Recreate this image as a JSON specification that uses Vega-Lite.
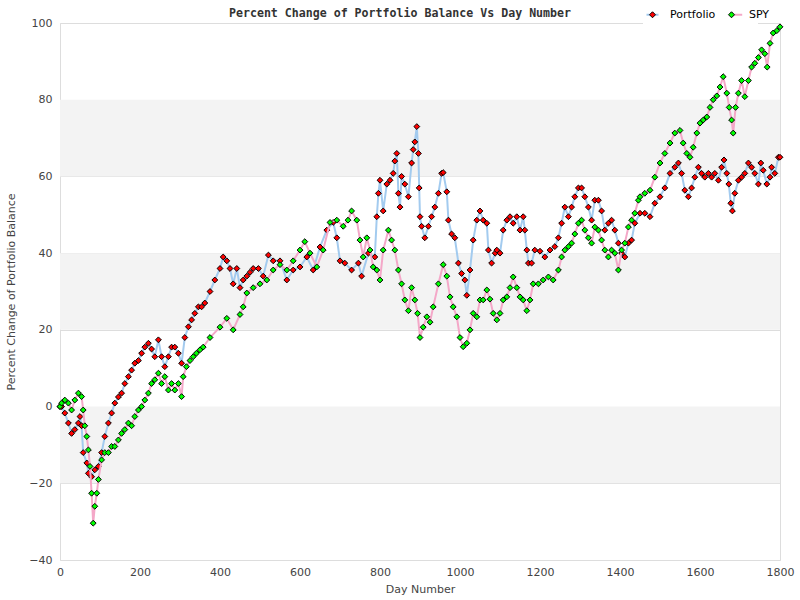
{
  "$schema": "https://vega.github.io/schema/vega-lite/v6.json",
  "width": 720,
  "height": 537,
  "autosize": {"type": "none"},
  "padding": {"left": 60, "top": 23, "right": 20, "bottom": 40},
  "background": "white",
  "title": {
    "text": "Percent Change of Portfolio Balance Vs Day Number",
    "font": "DejaVu Sans Mono",
    "fontSize": 11.6,
    "fontWeight": "bold",
    "color": "#333333",
    "anchor": "middle",
    "frame": "group",
    "dx": -20,
    "offset": -15
  },
  "config": {
    "view": {"stroke": "#dddddd", "strokeWidth": 1},
    "axis": {
      "labelFont": "DejaVu Sans",
      "labelFontSize": 11,
      "labelColor": "#444444",
      "labelFlush": false,
      "titleFont": "DejaVu Sans",
      "titleFontSize": 11,
      "titleFontWeight": "normal",
      "titleColor": "#444444",
      "domain": false,
      "ticks": false
    }
  },
  "datasets": {
    "bands": [
      {"lo": -20, "hi": 0},
      {"lo": 20, "hi": 40},
      {"lo": 60, "hi": 80}
    ],
    "series": [
      {"day":0,"value":0,"series":"Portfolio"},{"day":4,"value":0,"series":"Portfolio"},{"day":12,"value":-1.7,"series":"Portfolio"},{"day":21,"value":-4.3,"series":"Portfolio"},{"day":29,"value":-7,"series":"Portfolio"},{"day":37,"value":-6,"series":"Portfolio"},{"day":46,"value":-4.3,"series":"Portfolio"},{"day":50,"value":-2.6,"series":"Portfolio"},{"day":54,"value":-5,"series":"Portfolio"},{"day":58,"value":-12,"series":"Portfolio"},{"day":67,"value":-14.7,"series":"Portfolio"},{"day":71,"value":-17.4,"series":"Portfolio"},{"day":79,"value":-18.3,"series":"Portfolio"},{"day":87,"value":-16.5,"series":"Portfolio"},{"day":96,"value":-15.6,"series":"Portfolio"},{"day":104,"value":-12,"series":"Portfolio"},{"day":112,"value":-7.8,"series":"Portfolio"},{"day":121,"value":-4.3,"series":"Portfolio"},{"day":129,"value":-1.7,"series":"Portfolio"},{"day":137,"value":0.9,"series":"Portfolio"},{"day":146,"value":2.5,"series":"Portfolio"},{"day":154,"value":3.5,"series":"Portfolio"},{"day":162,"value":6,"series":"Portfolio"},{"day":171,"value":7.8,"series":"Portfolio"},{"day":179,"value":9.5,"series":"Portfolio"},{"day":187,"value":11.3,"series":"Portfolio"},{"day":196,"value":12,"series":"Portfolio"},{"day":204,"value":13.9,"series":"Portfolio"},{"day":212,"value":15.5,"series":"Portfolio"},{"day":221,"value":16.5,"series":"Portfolio"},{"day":229,"value":15,"series":"Portfolio"},{"day":237,"value":13,"series":"Portfolio"},{"day":246,"value":17.4,"series":"Portfolio"},{"day":254,"value":13,"series":"Portfolio"},{"day":262,"value":10.4,"series":"Portfolio"},{"day":271,"value":13,"series":"Portfolio"},{"day":279,"value":15.5,"series":"Portfolio"},{"day":287,"value":15.5,"series":"Portfolio"},{"day":296,"value":13.9,"series":"Portfolio"},{"day":304,"value":11.3,"series":"Portfolio"},{"day":312,"value":18,"series":"Portfolio"},{"day":321,"value":20.8,"series":"Portfolio"},{"day":329,"value":22.6,"series":"Portfolio"},{"day":337,"value":24.3,"series":"Portfolio"},{"day":346,"value":26,"series":"Portfolio"},{"day":354,"value":26,"series":"Portfolio"},{"day":362,"value":27,"series":"Portfolio"},{"day":375,"value":30,"series":"Portfolio"},{"day":387,"value":33,"series":"Portfolio"},{"day":400,"value":36,"series":"Portfolio"},{"day":408,"value":39,"series":"Portfolio"},{"day":417,"value":38,"series":"Portfolio"},{"day":425,"value":36,"series":"Portfolio"},{"day":433,"value":32,"series":"Portfolio"},{"day":442,"value":36,"series":"Portfolio"},{"day":450,"value":31,"series":"Portfolio"},{"day":458,"value":33,"series":"Portfolio"},{"day":467,"value":34,"series":"Portfolio"},{"day":475,"value":35,"series":"Portfolio"},{"day":483,"value":36,"series":"Portfolio"},{"day":496,"value":36,"series":"Portfolio"},{"day":508,"value":34,"series":"Portfolio"},{"day":521,"value":39.5,"series":"Portfolio"},{"day":533,"value":38,"series":"Portfolio"},{"day":550,"value":38,"series":"Portfolio"},{"day":567,"value":33,"series":"Portfolio"},{"day":583,"value":35.6,"series":"Portfolio"},{"day":600,"value":36.4,"series":"Portfolio"},{"day":617,"value":39,"series":"Portfolio"},{"day":633,"value":35.6,"series":"Portfolio"},{"day":650,"value":41.6,"series":"Portfolio"},{"day":667,"value":46,"series":"Portfolio"},{"day":683,"value":48,"series":"Portfolio"},{"day":692,"value":44,"series":"Portfolio"},{"day":700,"value":38,"series":"Portfolio"},{"day":712,"value":37.4,"series":"Portfolio"},{"day":729,"value":35.6,"series":"Portfolio"},{"day":746,"value":37.4,"series":"Portfolio"},{"day":754,"value":34,"series":"Portfolio"},{"day":771,"value":40,"series":"Portfolio"},{"day":787,"value":39,"series":"Portfolio"},{"day":792,"value":49.5,"series":"Portfolio"},{"day":796,"value":55.6,"series":"Portfolio"},{"day":800,"value":59,"series":"Portfolio"},{"day":808,"value":51,"series":"Portfolio"},{"day":817,"value":58,"series":"Portfolio"},{"day":825,"value":59,"series":"Portfolio"},{"day":833,"value":60.8,"series":"Portfolio"},{"day":837,"value":64,"series":"Portfolio"},{"day":842,"value":66,"series":"Portfolio"},{"day":846,"value":55.6,"series":"Portfolio"},{"day":850,"value":52,"series":"Portfolio"},{"day":854,"value":60,"series":"Portfolio"},{"day":862,"value":58,"series":"Portfolio"},{"day":871,"value":54.7,"series":"Portfolio"},{"day":879,"value":63.5,"series":"Portfolio"},{"day":883,"value":67,"series":"Portfolio"},{"day":887,"value":69,"series":"Portfolio"},{"day":892,"value":73,"series":"Portfolio"},{"day":896,"value":66,"series":"Portfolio"},{"day":898,"value":57,"series":"Portfolio"},{"day":900,"value":49.5,"series":"Portfolio"},{"day":904,"value":47,"series":"Portfolio"},{"day":912,"value":44,"series":"Portfolio"},{"day":921,"value":47,"series":"Portfolio"},{"day":929,"value":49.5,"series":"Portfolio"},{"day":937,"value":52,"series":"Portfolio"},{"day":946,"value":55.6,"series":"Portfolio"},{"day":954,"value":60.8,"series":"Portfolio"},{"day":958,"value":61,"series":"Portfolio"},{"day":967,"value":56,"series":"Portfolio"},{"day":971,"value":48.6,"series":"Portfolio"},{"day":979,"value":45,"series":"Portfolio"},{"day":987,"value":44,"series":"Portfolio"},{"day":996,"value":37.4,"series":"Portfolio"},{"day":1004,"value":34.7,"series":"Portfolio"},{"day":1012,"value":33,"series":"Portfolio"},{"day":1017,"value":29,"series":"Portfolio"},{"day":1025,"value":35.6,"series":"Portfolio"},{"day":1033,"value":43.4,"series":"Portfolio"},{"day":1042,"value":48.6,"series":"Portfolio"},{"day":1050,"value":51,"series":"Portfolio"},{"day":1058,"value":48.6,"series":"Portfolio"},{"day":1067,"value":47.8,"series":"Portfolio"},{"day":1071,"value":40.8,"series":"Portfolio"},{"day":1079,"value":37.4,"series":"Portfolio"},{"day":1088,"value":40,"series":"Portfolio"},{"day":1092,"value":40.8,"series":"Portfolio"},{"day":1100,"value":40,"series":"Portfolio"},{"day":1108,"value":46,"series":"Portfolio"},{"day":1117,"value":48.6,"series":"Portfolio"},{"day":1125,"value":49.5,"series":"Portfolio"},{"day":1133,"value":47.8,"series":"Portfolio"},{"day":1142,"value":49.5,"series":"Portfolio"},{"day":1150,"value":46,"series":"Portfolio"},{"day":1158,"value":49.5,"series":"Portfolio"},{"day":1162,"value":46,"series":"Portfolio"},{"day":1167,"value":40.8,"series":"Portfolio"},{"day":1171,"value":37.4,"series":"Portfolio"},{"day":1179,"value":37.4,"series":"Portfolio"},{"day":1187,"value":40.8,"series":"Portfolio"},{"day":1200,"value":40.5,"series":"Portfolio"},{"day":1212,"value":39,"series":"Portfolio"},{"day":1225,"value":40.8,"series":"Portfolio"},{"day":1237,"value":41.7,"series":"Portfolio"},{"day":1246,"value":44,"series":"Portfolio"},{"day":1254,"value":47.8,"series":"Portfolio"},{"day":1262,"value":52,"series":"Portfolio"},{"day":1271,"value":49.5,"series":"Portfolio"},{"day":1279,"value":52,"series":"Portfolio"},{"day":1287,"value":54.7,"series":"Portfolio"},{"day":1296,"value":57,"series":"Portfolio"},{"day":1304,"value":57,"series":"Portfolio"},{"day":1312,"value":54.7,"series":"Portfolio"},{"day":1321,"value":52,"series":"Portfolio"},{"day":1329,"value":48.6,"series":"Portfolio"},{"day":1337,"value":53.8,"series":"Portfolio"},{"day":1346,"value":53.8,"series":"Portfolio"},{"day":1354,"value":51,"series":"Portfolio"},{"day":1362,"value":46,"series":"Portfolio"},{"day":1371,"value":47.8,"series":"Portfolio"},{"day":1379,"value":48.6,"series":"Portfolio"},{"day":1387,"value":46,"series":"Portfolio"},{"day":1396,"value":42.6,"series":"Portfolio"},{"day":1404,"value":40,"series":"Portfolio"},{"day":1412,"value":39,"series":"Portfolio"},{"day":1421,"value":42.6,"series":"Portfolio"},{"day":1429,"value":43.4,"series":"Portfolio"},{"day":1437,"value":47.8,"series":"Portfolio"},{"day":1450,"value":50.4,"series":"Portfolio"},{"day":1462,"value":50.4,"series":"Portfolio"},{"day":1475,"value":49.5,"series":"Portfolio"},{"day":1487,"value":53,"series":"Portfolio"},{"day":1500,"value":54.7,"series":"Portfolio"},{"day":1512,"value":57,"series":"Portfolio"},{"day":1525,"value":60.8,"series":"Portfolio"},{"day":1537,"value":62.4,"series":"Portfolio"},{"day":1546,"value":63.5,"series":"Portfolio"},{"day":1554,"value":60.8,"series":"Portfolio"},{"day":1562,"value":56.4,"series":"Portfolio"},{"day":1571,"value":54.7,"series":"Portfolio"},{"day":1579,"value":57,"series":"Portfolio"},{"day":1587,"value":59.8,"series":"Portfolio"},{"day":1596,"value":62.4,"series":"Portfolio"},{"day":1604,"value":60.8,"series":"Portfolio"},{"day":1612,"value":59.8,"series":"Portfolio"},{"day":1621,"value":60.8,"series":"Portfolio"},{"day":1629,"value":59.8,"series":"Portfolio"},{"day":1637,"value":60.8,"series":"Portfolio"},{"day":1646,"value":59,"series":"Portfolio"},{"day":1654,"value":62.4,"series":"Portfolio"},{"day":1660,"value":64.3,"series":"Portfolio"},{"day":1667,"value":60.8,"series":"Portfolio"},{"day":1672,"value":58,"series":"Portfolio"},{"day":1677,"value":53,"series":"Portfolio"},{"day":1681,"value":51,"series":"Portfolio"},{"day":1687,"value":55.6,"series":"Portfolio"},{"day":1696,"value":59,"series":"Portfolio"},{"day":1704,"value":59.8,"series":"Portfolio"},{"day":1712,"value":60.8,"series":"Portfolio"},{"day":1721,"value":63.5,"series":"Portfolio"},{"day":1729,"value":62.4,"series":"Portfolio"},{"day":1737,"value":60.8,"series":"Portfolio"},{"day":1746,"value":58,"series":"Portfolio"},{"day":1752,"value":63.5,"series":"Portfolio"},{"day":1758,"value":61.6,"series":"Portfolio"},{"day":1767,"value":58,"series":"Portfolio"},{"day":1775,"value":59.8,"series":"Portfolio"},{"day":1779,"value":62.4,"series":"Portfolio"},{"day":1787,"value":60.8,"series":"Portfolio"},{"day":1796,"value":65,"series":"Portfolio"},{"day":1800,"value":65,"series":"Portfolio"},
      {"day":0,"value":0,"series":"SPY"},{"day":4,"value":0.9,"series":"SPY"},{"day":12,"value":1.7,"series":"SPY"},{"day":21,"value":0.9,"series":"SPY"},{"day":29,"value":-0.9,"series":"SPY"},{"day":37,"value":1.7,"series":"SPY"},{"day":46,"value":3.5,"series":"SPY"},{"day":54,"value":2.6,"series":"SPY"},{"day":58,"value":-0.9,"series":"SPY"},{"day":62,"value":-5,"series":"SPY"},{"day":67,"value":-7.8,"series":"SPY"},{"day":71,"value":-11.3,"series":"SPY"},{"day":75,"value":-15.6,"series":"SPY"},{"day":79,"value":-22.6,"series":"SPY"},{"day":83,"value":-30.4,"series":"SPY"},{"day":87,"value":-26,"series":"SPY"},{"day":92,"value":-22.6,"series":"SPY"},{"day":96,"value":-19,"series":"SPY"},{"day":104,"value":-13.9,"series":"SPY"},{"day":112,"value":-12,"series":"SPY"},{"day":121,"value":-12,"series":"SPY"},{"day":129,"value":-10.4,"series":"SPY"},{"day":137,"value":-10.4,"series":"SPY"},{"day":146,"value":-8.7,"series":"SPY"},{"day":154,"value":-7,"series":"SPY"},{"day":162,"value":-6,"series":"SPY"},{"day":171,"value":-4.3,"series":"SPY"},{"day":179,"value":-5,"series":"SPY"},{"day":187,"value":-2.6,"series":"SPY"},{"day":196,"value":-0.9,"series":"SPY"},{"day":204,"value":0,"series":"SPY"},{"day":212,"value":1.7,"series":"SPY"},{"day":221,"value":3.5,"series":"SPY"},{"day":229,"value":6,"series":"SPY"},{"day":237,"value":7,"series":"SPY"},{"day":246,"value":8.7,"series":"SPY"},{"day":254,"value":6,"series":"SPY"},{"day":262,"value":7.8,"series":"SPY"},{"day":271,"value":4.3,"series":"SPY"},{"day":279,"value":6,"series":"SPY"},{"day":287,"value":4.3,"series":"SPY"},{"day":296,"value":6,"series":"SPY"},{"day":304,"value":2.6,"series":"SPY"},{"day":308,"value":7.8,"series":"SPY"},{"day":316,"value":10.4,"series":"SPY"},{"day":325,"value":12,"series":"SPY"},{"day":333,"value":13,"series":"SPY"},{"day":341,"value":13.9,"series":"SPY"},{"day":350,"value":14.8,"series":"SPY"},{"day":358,"value":15.5,"series":"SPY"},{"day":375,"value":18,"series":"SPY"},{"day":400,"value":20.7,"series":"SPY"},{"day":417,"value":23,"series":"SPY"},{"day":433,"value":20,"series":"SPY"},{"day":450,"value":24,"series":"SPY"},{"day":458,"value":26,"series":"SPY"},{"day":467,"value":29.6,"series":"SPY"},{"day":483,"value":31,"series":"SPY"},{"day":500,"value":32,"series":"SPY"},{"day":517,"value":33,"series":"SPY"},{"day":533,"value":35.6,"series":"SPY"},{"day":550,"value":37,"series":"SPY"},{"day":567,"value":35.6,"series":"SPY"},{"day":583,"value":38,"series":"SPY"},{"day":600,"value":40.8,"series":"SPY"},{"day":612,"value":43,"series":"SPY"},{"day":625,"value":40,"series":"SPY"},{"day":642,"value":36.4,"series":"SPY"},{"day":658,"value":40.8,"series":"SPY"},{"day":675,"value":48,"series":"SPY"},{"day":692,"value":48.6,"series":"SPY"},{"day":708,"value":47,"series":"SPY"},{"day":720,"value":48.6,"series":"SPY"},{"day":729,"value":51,"series":"SPY"},{"day":742,"value":48.6,"series":"SPY"},{"day":750,"value":43.4,"series":"SPY"},{"day":758,"value":39,"series":"SPY"},{"day":767,"value":44,"series":"SPY"},{"day":775,"value":40.8,"series":"SPY"},{"day":783,"value":36.4,"series":"SPY"},{"day":792,"value":35.6,"series":"SPY"},{"day":800,"value":33,"series":"SPY"},{"day":808,"value":40.8,"series":"SPY"},{"day":821,"value":46,"series":"SPY"},{"day":829,"value":43.4,"series":"SPY"},{"day":837,"value":40.8,"series":"SPY"},{"day":846,"value":35.6,"series":"SPY"},{"day":854,"value":32,"series":"SPY"},{"day":862,"value":27.8,"series":"SPY"},{"day":871,"value":25,"series":"SPY"},{"day":879,"value":31,"series":"SPY"},{"day":887,"value":27.8,"series":"SPY"},{"day":894,"value":24.3,"series":"SPY"},{"day":900,"value":18,"series":"SPY"},{"day":908,"value":20.7,"series":"SPY"},{"day":917,"value":23.4,"series":"SPY"},{"day":925,"value":22,"series":"SPY"},{"day":933,"value":26,"series":"SPY"},{"day":946,"value":32,"series":"SPY"},{"day":958,"value":37,"series":"SPY"},{"day":967,"value":34,"series":"SPY"},{"day":975,"value":28.6,"series":"SPY"},{"day":983,"value":26,"series":"SPY"},{"day":992,"value":23.4,"series":"SPY"},{"day":1000,"value":18,"series":"SPY"},{"day":1008,"value":15.6,"series":"SPY"},{"day":1017,"value":16.5,"series":"SPY"},{"day":1025,"value":20,"series":"SPY"},{"day":1033,"value":24.3,"series":"SPY"},{"day":1042,"value":23.4,"series":"SPY"},{"day":1050,"value":27.8,"series":"SPY"},{"day":1058,"value":27.8,"series":"SPY"},{"day":1067,"value":30.4,"series":"SPY"},{"day":1075,"value":28,"series":"SPY"},{"day":1083,"value":24.3,"series":"SPY"},{"day":1092,"value":22.6,"series":"SPY"},{"day":1100,"value":24.3,"series":"SPY"},{"day":1108,"value":27.8,"series":"SPY"},{"day":1117,"value":28.6,"series":"SPY"},{"day":1125,"value":31,"series":"SPY"},{"day":1133,"value":33.8,"series":"SPY"},{"day":1142,"value":31,"series":"SPY"},{"day":1150,"value":28.6,"series":"SPY"},{"day":1158,"value":27.8,"series":"SPY"},{"day":1167,"value":25,"series":"SPY"},{"day":1175,"value":27.8,"series":"SPY"},{"day":1183,"value":32,"series":"SPY"},{"day":1196,"value":32,"series":"SPY"},{"day":1208,"value":33,"series":"SPY"},{"day":1221,"value":33.8,"series":"SPY"},{"day":1233,"value":33,"series":"SPY"},{"day":1246,"value":35.6,"series":"SPY"},{"day":1254,"value":39,"series":"SPY"},{"day":1262,"value":40.8,"series":"SPY"},{"day":1271,"value":41.7,"series":"SPY"},{"day":1279,"value":42.6,"series":"SPY"},{"day":1287,"value":45,"series":"SPY"},{"day":1296,"value":47.8,"series":"SPY"},{"day":1304,"value":48.6,"series":"SPY"},{"day":1312,"value":46,"series":"SPY"},{"day":1321,"value":44,"series":"SPY"},{"day":1329,"value":42.6,"series":"SPY"},{"day":1337,"value":46.8,"series":"SPY"},{"day":1346,"value":46,"series":"SPY"},{"day":1354,"value":43.4,"series":"SPY"},{"day":1362,"value":40.8,"series":"SPY"},{"day":1371,"value":39,"series":"SPY"},{"day":1379,"value":40.8,"series":"SPY"},{"day":1387,"value":40,"series":"SPY"},{"day":1396,"value":35.6,"series":"SPY"},{"day":1404,"value":40.8,"series":"SPY"},{"day":1412,"value":42.6,"series":"SPY"},{"day":1421,"value":46.8,"series":"SPY"},{"day":1429,"value":48.6,"series":"SPY"},{"day":1437,"value":50.4,"series":"SPY"},{"day":1446,"value":53.8,"series":"SPY"},{"day":1450,"value":54.7,"series":"SPY"},{"day":1462,"value":55.6,"series":"SPY"},{"day":1475,"value":56.4,"series":"SPY"},{"day":1487,"value":59.8,"series":"SPY"},{"day":1500,"value":63.5,"series":"SPY"},{"day":1512,"value":66,"series":"SPY"},{"day":1525,"value":68.7,"series":"SPY"},{"day":1537,"value":71.3,"series":"SPY"},{"day":1550,"value":72,"series":"SPY"},{"day":1558,"value":68.7,"series":"SPY"},{"day":1567,"value":66,"series":"SPY"},{"day":1575,"value":65,"series":"SPY"},{"day":1583,"value":67.6,"series":"SPY"},{"day":1592,"value":71.3,"series":"SPY"},{"day":1600,"value":73.9,"series":"SPY"},{"day":1608,"value":74.7,"series":"SPY"},{"day":1617,"value":75.5,"series":"SPY"},{"day":1625,"value":78,"series":"SPY"},{"day":1633,"value":80,"series":"SPY"},{"day":1642,"value":81,"series":"SPY"},{"day":1650,"value":83.3,"series":"SPY"},{"day":1658,"value":86,"series":"SPY"},{"day":1667,"value":81.7,"series":"SPY"},{"day":1673,"value":78,"series":"SPY"},{"day":1679,"value":74.7,"series":"SPY"},{"day":1683,"value":71.3,"series":"SPY"},{"day":1689,"value":78,"series":"SPY"},{"day":1696,"value":81.7,"series":"SPY"},{"day":1704,"value":85,"series":"SPY"},{"day":1712,"value":80.8,"series":"SPY"},{"day":1721,"value":85,"series":"SPY"},{"day":1729,"value":88.5,"series":"SPY"},{"day":1737,"value":89.5,"series":"SPY"},{"day":1746,"value":91,"series":"SPY"},{"day":1754,"value":93,"series":"SPY"},{"day":1762,"value":92,"series":"SPY"},{"day":1768,"value":88.5,"series":"SPY"},{"day":1775,"value":94.7,"series":"SPY"},{"day":1783,"value":97.4,"series":"SPY"},{"day":1792,"value":98,"series":"SPY"},{"day":1800,"value":99,"series":"SPY"}
    ]
  },
  "layer": [
    {
      "data": {"name": "bands"},
      "mark": {"type": "rect", "color": "#f3f3f3"},
      "encoding": {
        "y": {
          "field": "lo", "type": "quantitative",
          "scale": {"domain": [-40, 100], "nice": false, "zero": false},
          "axis": {
            "title": "Percent Change of Portfolio Balance",
            "values": [-40, -20, 0, 20, 40, 60, 80, 100],
            "grid": true, "gridColor": "#dddddd", "gridWidth": 1,
            "labelPadding": 8, "titlePadding": 12
          }
        },
        "y2": {"field": "hi"}
      }
    },
    {
      "data": {"name": "series"},
      "transform": [{"filter": "datum.series === 'Portfolio'"}],
      "mark": {"type": "line", "strokeWidth": 2},
      "encoding": {
        "x": {
          "field": "day", "type": "quantitative",
          "scale": {"domain": [0, 1800], "nice": false},
          "axis": {"title": "Day Number", "format": "d", "values": [0, 200, 400, 600, 800, 1000, 1200, 1400, 1600, 1800], "grid": false, "labelPadding": 6, "titlePadding": 6}
        },
        "y": {"field": "value", "type": "quantitative"},
        "color": {
          "field": "series", "type": "nominal",
          "scale": {"domain": ["Portfolio", "SPY"], "range": ["#a3cbef", "#f4a8c8"]},
          "legend": {
            "title": null, "orient": "none", "direction": "horizontal",
            "legendX": 583, "legendY": -18,
            "symbolType": "M-2,0H2", "symbolSize": 36, "symbolStrokeWidth": 2,
            "labelExpr": "''", "labelFont": "DejaVu Sans", "labelFontSize": 11,
            "labelOffset": 12, "columnPadding": 55.7, "padding": 4,
            "fillColor": "white"
          }
        }
      }
    },
    {
      "data": {"name": "series"},
      "transform": [{"filter": "datum.series === 'Portfolio'"}],
      "mark": {"type": "point", "shape": "diamond", "filled": true, "stroke": "black", "strokeWidth": 1, "size": 34, "opacity": 1},
      "encoding": {
        "x": {"field": "day", "type": "quantitative"},
        "y": {"field": "value", "type": "quantitative"},
        "fill": {
          "field": "series", "type": "nominal",
          "scale": {"range": ["#ff0000", "#00ff00"]},
          "legend": {
            "title": null, "orient": "none", "direction": "horizontal",
            "legendX": 583, "legendY": -18,
            "symbolType": "diamond", "symbolSize": 36, "symbolStrokeWidth": 1, "symbolStrokeColor": "black",
            "labelFont": "DejaVu Sans", "labelFontSize": 11, "labelColor": "#000000",
            "labelOffset": 12, "columnPadding": 10, "padding": 4
          }
        }
      }
    },
    {
      "data": {"name": "series"},
      "transform": [{"filter": "datum.series === 'SPY'"}],
      "mark": {"type": "line", "strokeWidth": 2},
      "encoding": {
        "x": {"field": "day", "type": "quantitative"},
        "y": {"field": "value", "type": "quantitative"},
        "color": {"field": "series", "type": "nominal"}
      }
    },
    {
      "data": {"name": "series"},
      "transform": [{"filter": "datum.series === 'SPY'"}],
      "mark": {"type": "point", "shape": "diamond", "filled": true, "stroke": "black", "strokeWidth": 1, "size": 34, "opacity": 1},
      "encoding": {
        "x": {"field": "day", "type": "quantitative"},
        "y": {"field": "value", "type": "quantitative"},
        "fill": {"field": "series", "type": "nominal"}
      }
    }
  ]
}
